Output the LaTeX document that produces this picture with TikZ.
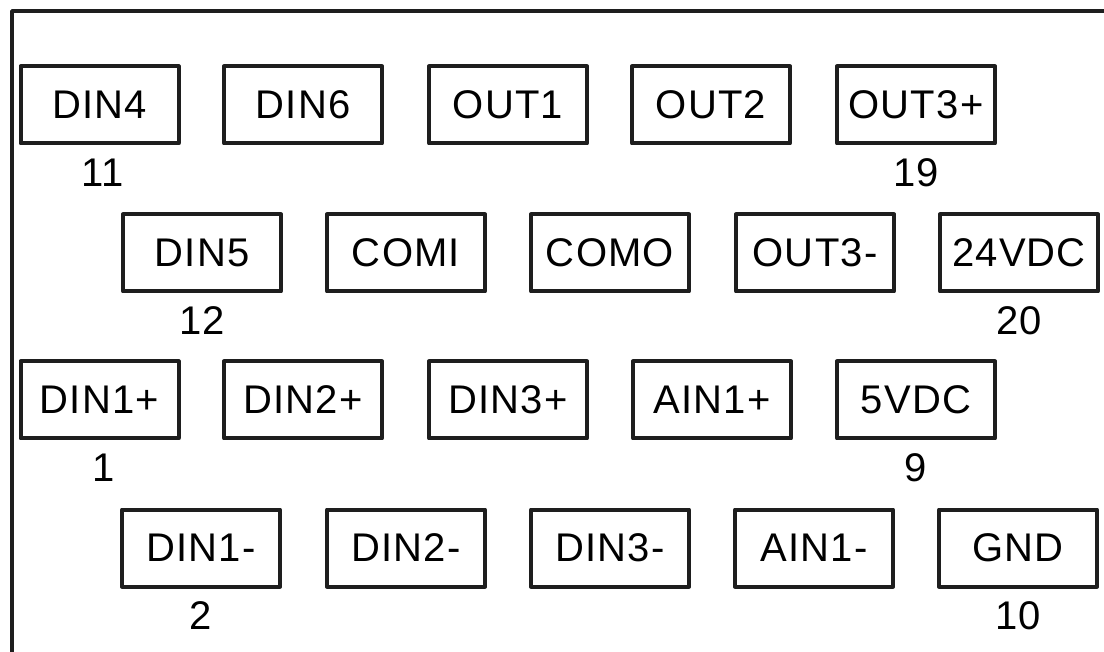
\documentclass[tikz,border=0pt]{standalone}
\usepackage{fontspec}
\setmainfont[LetterSpace=3]{Liberation Sans}
\usepackage{tikz}
\usetikzlibrary{positioning}
\definecolor{frameline}{RGB}{30, 30, 30}

\begin{document}
\begin{tikzpicture}[x=1pt, y=-1pt, line cap=round, line join=round,
    terminal/.style={draw=frameline, line width=4pt, minimum width=158pt, minimum height=77pt, inner sep=0pt, font=\fontsize{40}{48}\selectfont},
    pinno/.style={inner sep=0pt, text depth=0pt, font=\fontsize{40}{48}\selectfont}]
    	\useasboundingbox (0,0) rectangle (1104,652);

    	\coordinate (F1) at (1104,11);
    	\coordinate (F2) at (12,11);
    	\coordinate (F3) at (12,652);
    	\draw [frameline, line width=3.4pt, line cap=butt] (F1)--(F2)--(F3);

    	\node [terminal] (DIN4)   at (99.5,105) {DIN4};
    	\node [terminal] (DIN6)   at (303,105)  {DIN6};
    	\node [terminal] (OUT1)   at (508,105)  {OUT1};
    	\node [terminal] (OUT2)   at (711,105)  {OUT2};
    	\node [terminal] (OUT3p)  at (916,105)  {OUT3+};

    	\node [terminal] (DIN5)   at (202,253)  {DIN5};
    	\node [terminal] (COMI)   at (406,253)  {COMI};
    	\node [terminal] (COMO)   at (610,253)  {COMO};
    	\node [terminal] (OUT3m)  at (815,253)  {OUT3-};
    	\node [terminal] (VDC24)  at (1019,253) {24VDC};

    	\node [terminal] (DIN1p)  at (99.5,400) {DIN1+};
    	\node [terminal] (DIN2p)  at (303,400)  {DIN2+};
    	\node [terminal] (DIN3p)  at (508,400)  {DIN3+};
    	\node [terminal] (AIN1p)  at (712,400)  {AIN1+};
    	\node [terminal] (VDC5)   at (916,400)  {5VDC};

    	\node [terminal] (DIN1m)  at (201,548)  {DIN1-};
    	\node [terminal] (DIN2m)  at (406,548)  {DIN2-};
    	\node [terminal] (DIN3m)  at (610,548)  {DIN3-};
    	\node [terminal] (AIN1m)  at (814,548)  {AIN1-};
    	\node [terminal] (GND)    at (1018,548) {GND};

    	\node [pinno, below=13pt of DIN4, xshift=3pt]  (n11) {11};
    	\node [pinno, below=13pt of OUT3p]             (n19) {19};
    	\node [pinno, below=13pt of DIN5]              (n12) {12};
    	\node [pinno, below=13pt of VDC24]             (n20) {20};
    	\node [pinno, below=13pt of DIN1p, xshift=4pt] (n1)  {1};
    	\node [pinno, below=13pt of VDC5]              (n9)  {9};
    	\node [pinno, below=13pt of DIN1m]             (n2)  {2};
    	\node [pinno, below=13pt of GND]               (n10) {10};
    \end{tikzpicture}
\end{document}
